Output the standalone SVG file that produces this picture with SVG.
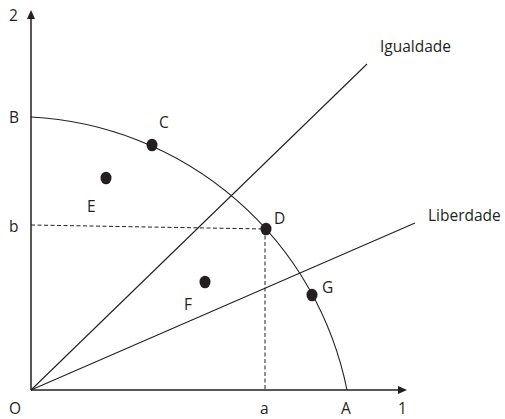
<svg xmlns="http://www.w3.org/2000/svg" width="505" height="419" viewBox="0 0 505 419">
<style>
.t{font-family:"Open Sans",Lato,sans-serif;font-size:15.5px;fill:#231f20}
.ln{stroke:#231f20;stroke-width:1.1;fill:none}
.ax{stroke:#231f20;stroke-width:1.5;fill:none}
.ds{stroke:#231f20;stroke-width:1;fill:none;stroke-dasharray:4 2.5}
.pt{fill:#231f20}
</style>
<rect width="505" height="419" fill="#fff"/>
<g id="connectors">
<line class="ax" x1="31" y1="390" x2="31" y2="18"/>
<polygon class="pt" points="31,10 27,19 35,19"/>
<line class="ax" x1="31" y1="390" x2="399" y2="390"/>
<polygon class="pt" points="407,390 398,386 398,394"/>
<path class="ln" d="M31 117 A340.6 340.6 0 0 1 347 390"/>
<line class="ln" x1="31" y1="390" x2="367" y2="64"/>
<line class="ln" x1="31" y1="390" x2="415" y2="223"/>
<line class="ds" x1="31" y1="225" x2="266" y2="229"/>
<line class="ds" x1="265" y1="229" x2="265" y2="390"/>
</g>
<g id="C"><ellipse class="pt" cx="152" cy="145" rx="5.5" ry="6.3"/><text class="t" x="159" y="128">C</text></g>
<g id="D"><ellipse class="pt" cx="266" cy="229" rx="5.5" ry="6.3"/><text class="t" x="274" y="224">D</text></g>
<g id="E"><ellipse class="pt" cx="106" cy="178" rx="5.5" ry="6.3"/><text class="t" x="87" y="212">E</text></g>
<g id="F"><ellipse class="pt" cx="205" cy="282" rx="5.5" ry="6.3"/><text class="t" x="184" y="310">F</text></g>
<g id="G"><ellipse class="pt" cx="312" cy="295" rx="5.5" ry="6.3"/><text class="t" x="322" y="293">G</text></g>
<g id="labels">
<text class="t" x="9" y="21">2</text>
<text class="t" x="9" y="123">B</text>
<text class="t" x="9" y="232">b</text>
<text class="t" x="9" y="414">O</text>
<text class="t" x="260" y="414">a</text>
<text class="t" x="341" y="414">A</text>
<text class="t" x="398" y="414">1</text>
<text class="t" x="380" y="52">Igualdade</text>
<text class="t" x="428" y="221">Liberdade</text>
</g>
</svg>
